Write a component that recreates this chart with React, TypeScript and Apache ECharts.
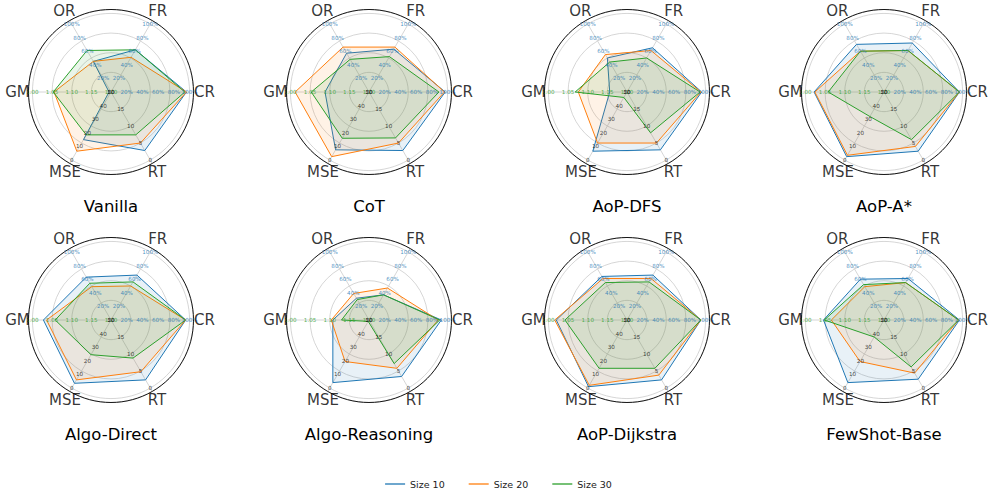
import React, { useEffect, useRef } from "react";
import * as echarts from "echarts";

// ---------------- data ----------------
const AXES = ["CR", "FR", "OR", "GM", "MSE", "RT"];
const ANGLES = [0, 60, 120, 180, 240, 300];
const SIZES = ["Size 10", "Size 20", "Size 30"];
const COLORS = ["#1f77b4", "#ff7f0e", "#2ca02c"];
const METHODS = [
  "Vanilla",
  "CoT",
  "AoP-DFS",
  "AoP-A*",
  "Algo-Direct",
  "Algo-Reasoning",
  "AoP-Dijkstra",
  "FewShot-Base",
];

// each row: [CR %, FR %, OR %, GM, MSE, RT] for Size 10, Size 20, Size 30
const vanilla = [
  [96, 62, 45, 1.195, 15, 2.8],
  [96, 51, 45, 1.055, 6.5, 5],
  [94, 62, 61, 1.053, 18.5, 7.4],
];
const cot = [
  [97, 63, 57, 1.088, 7.5, 2.8],
  [96, 66, 66, 1.012, 2.5, 5],
  [89, 52, 48, 1.053, 16, 6.5],
];
const aopDfs = [
  [95, 65, 50, 1.156, 6.5, 3],
  [94, 61, 55, 1.076, 12.5, 5],
  [93, 50, 44, 1.068, 46, 8],
];
const aopAStar = [
  [96, 72, 70, 1.022, 2.5, 2.6],
  [96, 61, 60, 1.024, 3.5, 4],
  [96, 61, 60, 1.058, 32, 6],
];
const algoDirect = [
  [95, 66, 63, 1.028, 3.5, 2.4],
  [95, 50, 49, 1.036, 6, 4.8],
  [95, 56, 54, 1.058, 24.5, 8.8],
];
const algoReasoning = [
  [92, 37, 32, 1.108, 4, 3.4],
  [88, 47, 39, 1.104, 19.5, 5.8],
  [90, 37, 30, 1.13, 49, 7.2],
];
const aopDijkstra = [
  [94, 66, 64, 1.02, 1, 2.4],
  [94, 61, 61, 1.016, 2, 3.8],
  [94, 56, 55, 1.042, 14.5, 5.8],
];
const fewShotBase = [
  [96, 61, 60, 1.046, 4, 2.6],
  [95, 55, 49, 1.066, 19.5, 4.4],
  [95, 55, 52, 1.048, 37.5, 6.2],
];
const ALL_DATA = [vanilla, cot, aopDfs, aopAStar, algoDirect, algoReasoning, aopDijkstra, fewShotBase];

// tick labels per axis
const PCT_TICKS = [20, 40, 60, 80, 100];
const GM_TICKS = [1.0, 1.05, 1.1, 1.15, 1.2];
const MSE_TICKS = [0, 10, 20, 30, 40, 50];
const RT_TICKS = [0, 5, 10, 15, 20];

// per-axis scales: value -> normalized radius (1 = outer grid circle)
const SCALES = [
  (v: number) => v / 100,
  (v: number) => v / 100,
  (v: number) => v / 100,
  (v: number) => (1.2 - v) / 0.2,
  (v: number) => (50 - v) / 50,
  (v: number) => (20 - v) / 20,
];

// ---------------- layout ----------------
const CX = [111, 369, 627, 884];
const CY = [92, 320];
const RADIUS = 82.5;
const FONT = "DejaVu Sans";
const GRID = "#cccccc";

export default function App() {
  const ref = useRef<HTMLDivElement>(null);

  useEffect(() => {
    document.body.style.margin = "0";
    if (!ref.current) return;
    const chart = echarts.init(ref.current, undefined, { renderer: "svg" });

    const centers = METHODS.map((_, i) => [CX[i % 4], CY[Math.floor(i / 4)]]);

    const polar = centers.map((c) => ({ center: c, radius: RADIUS }));
    const angleAxis = centers.map((_, i) => ({
      polarIndex: i,
      type: "value",
      min: 0,
      max: 360,
      interval: 60,
      startAngle: 0,
      clockwise: false,
      axisLine: { show: true, lineStyle: { color: "#000", width: 0.9 } },
      axisTick: { show: false },
      axisLabel: { show: false },
      splitLine: { show: true, lineStyle: { color: GRID, width: 0.8 } },
    }));
    const radiusAxis = centers.map((_, i) => ({
      polarIndex: i,
      type: "value",
      min: 0,
      max: 1.05,
      interval: 0.25,
      axisLine: { show: false },
      axisTick: { show: false },
      axisLabel: { show: false },
      splitLine: { show: true, lineStyle: { color: GRID, width: 0.8 } },
    }));

    const tickItems: any[] = [];
    [0, 1, 2].forEach((k) => {
      PCT_TICKS.forEach((t) =>
        tickItems.push({ name: t + "%", value: [SCALES[k](t), ANGLES[k]], color: "#1f77b4" })
      );
    });
    GM_TICKS.forEach((t) =>
      tickItems.push({ name: t.toFixed(2), value: [SCALES[3](t), ANGLES[3]], color: "#2ca02c" })
    );
    MSE_TICKS.forEach((t) =>
      tickItems.push({ name: String(t), value: [SCALES[4](t), ANGLES[4]], color: "#111" })
    );
    RT_TICKS.forEach((t) =>
      tickItems.push({ name: String(t), value: [SCALES[5](t), ANGLES[5]], color: "#111" })
    );

    const series: any[] = [];
    ALL_DATA.forEach((rows, i) => {
      rows.forEach((vals, s) => {
        const pts = vals.map((v, k) => [SCALES[k](v), ANGLES[k]]);
        pts.push([pts[0][0], 360]);
        series.push({
          type: "line",
          name: SIZES[s],
          coordinateSystem: "polar",
          polarIndex: i,
          data: pts,
          symbol: "none",
          silent: true,
          clip: false,
          z: 2 + s,
          lineStyle: { color: COLORS[s], width: 1 },
          itemStyle: { color: COLORS[s] },
          areaStyle: { color: COLORS[s], opacity: 0.1 },
        });
      });
      // tick labels
      series.push({
        type: "scatter",
        coordinateSystem: "polar",
        polarIndex: i,
        silent: true,
        clip: false,
        z: 10,
        symbolSize: 0,
        data: tickItems.map((d) => ({
          name: d.name,
          value: d.value,
          label: { color: d.color },
        })),
        label: {
          show: true,
          position: "inside",
          formatter: "{b}",
          fontSize: 5.6,
          fontFamily: FONT,
        },
      });
      // axis names
      series.push({
        type: "scatter",
        coordinateSystem: "polar",
        polarIndex: i,
        silent: true,
        clip: false,
        z: 11,
        symbolSize: 0,
        data: AXES.map((n, k) => ({
          name: n,
          value: [k === 4 || k === 5 ? 1.17 : 1.19, ANGLES[k]],
        })),
        label: {
          show: true,
          position: "inside",
          formatter: "{b}",
          fontSize: 15,
          color: "#000",
          fontFamily: FONT,
        },
      });
    });

    const title = METHODS.map((m, i) => ({
      text: m,
      left: CX[i % 4],
      top: CY[Math.floor(i / 4)] + 106,
      textAlign: "center",
      padding: 0,
      textStyle: { fontSize: 16.5, fontWeight: "normal", color: "#000", fontFamily: FONT },
    }));

    chart.setOption({
      animation: false,
      backgroundColor: "#fff",
      title,
      polar,
      angleAxis,
      radiusAxis,
      legend: {
        data: SIZES,
        left: "center",
        top: 474,
        icon: "rect",
        itemWidth: 20,
        itemHeight: 1.3,
        itemGap: 24,
        textStyle: { fontSize: 9.5, color: "#222", fontFamily: FONT },
      },
      series,
    });

    return () => chart.dispose();
  }, []);

  return <div ref={ref} style={{ width: 997, height: 504 }} />;
}
